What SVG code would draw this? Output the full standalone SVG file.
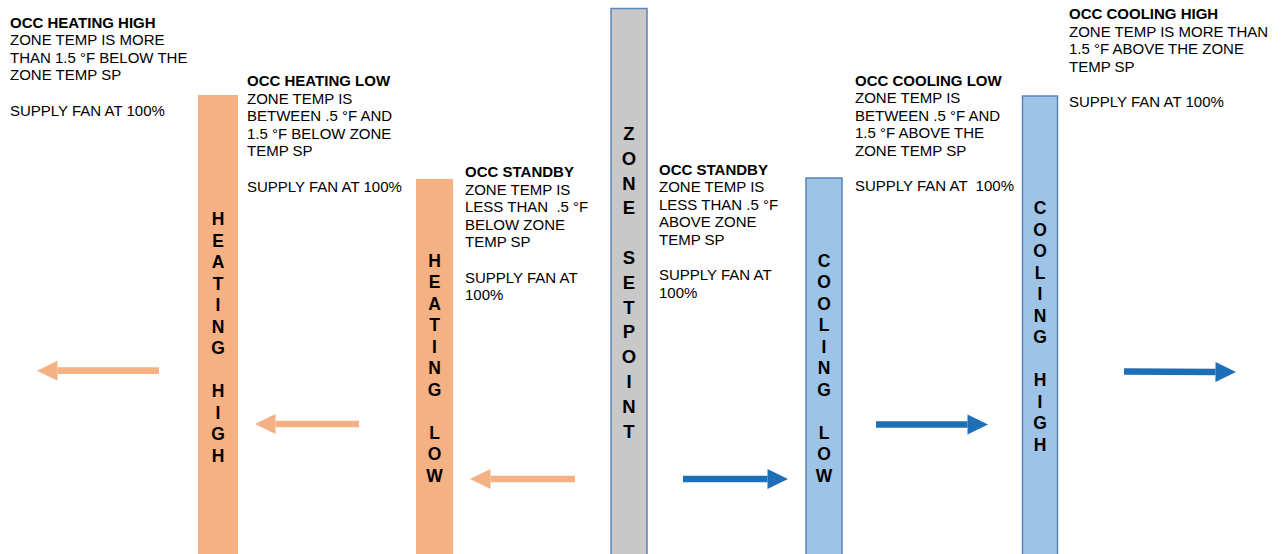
<svg xmlns="http://www.w3.org/2000/svg" width="1283" height="554" viewBox="0 0 1283 554">
<style>
.t{font-family:"Liberation Sans",Arial,sans-serif;font-size:15px;fill:#000;white-space:pre}
.b{font-weight:bold}
.v{font-family:"Liberation Sans",Arial,sans-serif;font-size:17.5px;font-weight:bold;fill:#000;text-anchor:middle}
.heat{fill:#F4B183}
.cool{fill:#9DC3E6;stroke:#5A84BA;stroke-width:1.5}
.sp{fill:#C8C8C8;stroke:#5A84BA;stroke-width:1.5}
.ao{stroke:#F4B183;stroke-width:6.7;fill:none;marker-end:url(#mo)}
.ab{stroke:#1E6FB7;stroke-width:6.7;fill:none;marker-end:url(#mb)}
</style>
<defs>
<marker id="mo" markerUnits="userSpaceOnUse" markerWidth="21" markerHeight="21" refX="0" refY="10" orient="auto" overflow="visible"><path d="M0,0 L20.5,10 L0,20 z" fill="#F4B183"/></marker>
<marker id="mb" markerUnits="userSpaceOnUse" markerWidth="21" markerHeight="21" refX="0" refY="10" orient="auto" overflow="visible"><path d="M0,0 L20.5,10 L0,20 z" fill="#1E6FB7"/></marker>
</defs>
<rect width="1283" height="554" fill="#fff"/>

<g id="heating-high">
<rect class="heat" x="198" y="95" width="40" height="470"/>
<text class="v"><tspan x="218" y="225">H</tspan><tspan x="218" dy="21.5">E</tspan><tspan x="218" dy="21.5">A</tspan><tspan x="218" dy="21.5">T</tspan><tspan x="218" dy="21.5">I</tspan><tspan x="218" dy="21.5">N</tspan><tspan x="218" dy="21.5">G</tspan><tspan x="218" dy="43">H</tspan><tspan x="218" dy="21.5">I</tspan><tspan x="218" dy="21.5">G</tspan><tspan x="218" dy="21.5">H</tspan></text>
</g>
<g id="heating-high-text">
<text class="t"><tspan class="b" x="10" y="27.5">OCC HEATING HIGH</tspan><tspan x="10" dy="17.6">ZONE TEMP IS MORE</tspan><tspan x="10" dy="17.6">THAN 1.5 °F BELOW THE</tspan><tspan x="10" dy="17.6">ZONE TEMP SP</tspan><tspan x="10" dy="35.2">SUPPLY FAN AT 100%</tspan></text>
</g>

<g id="heating-low">
<rect class="heat" x="416" y="179" width="37" height="390"/>
<text class="v"><tspan x="434.5" y="266.7">H</tspan><tspan x="434.5" dy="21.5">E</tspan><tspan x="434.5" dy="21.5">A</tspan><tspan x="434.5" dy="21.5">T</tspan><tspan x="434.5" dy="21.5">I</tspan><tspan x="434.5" dy="21.5">N</tspan><tspan x="434.5" dy="21.5">G</tspan><tspan x="434.5" dy="43">L</tspan><tspan x="434.5" dy="21.5">O</tspan><tspan x="434.5" dy="21.5">W</tspan></text>
</g>
<g id="heating-low-text">
<text class="t"><tspan class="b" x="247" y="86">OCC HEATING LOW</tspan><tspan x="247" dy="17.6">ZONE TEMP IS</tspan><tspan x="247" dy="17.6">BETWEEN .5 °F AND</tspan><tspan x="247" dy="17.6">1.5 °F BELOW ZONE</tspan><tspan x="247" dy="17.6">TEMP SP</tspan><tspan x="247" dy="35.2">SUPPLY FAN AT 100%</tspan></text>
</g>

<g id="standby-below-text">
<text class="t"><tspan class="b" x="465" y="177">OCC STANDBY</tspan><tspan x="465" dy="17.6">ZONE TEMP IS</tspan><tspan x="465" dy="17.6">LESS THAN  .5 °F</tspan><tspan x="465" dy="17.6">BELOW ZONE</tspan><tspan x="465" dy="17.6">TEMP SP</tspan><tspan x="465" dy="35.2">SUPPLY FAN AT</tspan><tspan x="465" dy="17.6">100%</tspan></text>
</g>

<g id="zone-setpoint">
<rect class="sp" x="611" y="8.5" width="36" height="560"/>
<text class="v" style="font-size:18.5px"><tspan x="629" y="140">Z</tspan><tspan x="629" dy="24.8">O</tspan><tspan x="629" dy="24.8">N</tspan><tspan x="629" dy="24.8">E</tspan><tspan x="629" dy="49.6">S</tspan><tspan x="629" dy="24.8">E</tspan><tspan x="629" dy="24.8">T</tspan><tspan x="629" dy="24.8">P</tspan><tspan x="629" dy="24.8">O</tspan><tspan x="629" dy="24.8">I</tspan><tspan x="629" dy="24.8">N</tspan><tspan x="629" dy="24.8">T</tspan></text>
</g>

<g id="standby-above-text">
<text class="t"><tspan class="b" x="659" y="174.5">OCC STANDBY</tspan><tspan x="659" dy="17.6">ZONE TEMP IS</tspan><tspan x="659" dy="17.6">LESS THAN .5 °F</tspan><tspan x="659" dy="17.6">ABOVE ZONE</tspan><tspan x="659" dy="17.6">TEMP SP</tspan><tspan x="659" dy="35.2">SUPPLY FAN AT</tspan><tspan x="659" dy="17.6">100%</tspan></text>
</g>

<g id="cooling-low">
<rect class="cool" x="806" y="178" width="36" height="390"/>
<text class="v"><tspan x="824" y="266.7">C</tspan><tspan x="824" dy="21.5">O</tspan><tspan x="824" dy="21.5">O</tspan><tspan x="824" dy="21.5">L</tspan><tspan x="824" dy="21.5">I</tspan><tspan x="824" dy="21.5">N</tspan><tspan x="824" dy="21.5">G</tspan><tspan x="824" dy="43">L</tspan><tspan x="824" dy="21.5">O</tspan><tspan x="824" dy="21.5">W</tspan></text>
</g>
<g id="cooling-low-text">
<text class="t"><tspan class="b" x="855" y="85.5">OCC COOLING LOW</tspan><tspan x="855" dy="17.6">ZONE TEMP IS</tspan><tspan x="855" dy="17.6">BETWEEN .5 °F AND</tspan><tspan x="855" dy="17.6">1.5 °F ABOVE THE</tspan><tspan x="855" dy="17.6">ZONE TEMP SP</tspan><tspan x="855" dy="35.2">SUPPLY FAN AT  100%</tspan></text>
</g>

<g id="cooling-high">
<rect class="cool" x="1022.5" y="96" width="35" height="470"/>
<text class="v"><tspan x="1040" y="214">C</tspan><tspan x="1040" dy="21.5">O</tspan><tspan x="1040" dy="21.5">O</tspan><tspan x="1040" dy="21.5">L</tspan><tspan x="1040" dy="21.5">I</tspan><tspan x="1040" dy="21.5">N</tspan><tspan x="1040" dy="21.5">G</tspan><tspan x="1040" dy="43">H</tspan><tspan x="1040" dy="21.5">I</tspan><tspan x="1040" dy="21.5">G</tspan><tspan x="1040" dy="21.5">H</tspan></text>
</g>
<g id="cooling-high-text">
<text class="t"><tspan class="b" x="1069" y="19">OCC COOLING HIGH</tspan><tspan x="1069" dy="17.5">ZONE TEMP IS MORE THAN</tspan><tspan x="1069" dy="17.5">1.5 °F ABOVE THE ZONE</tspan><tspan x="1069" dy="17.5">TEMP SP</tspan><tspan x="1069" dy="35">SUPPLY FAN AT 100%</tspan></text>
</g>

<g id="connectors">
<line class="ao" x1="159" y1="370.7" x2="57.5" y2="370.7"/>
<line class="ao" x1="359" y1="424" x2="275.5" y2="424"/>
<line class="ao" x1="575" y1="479" x2="490.5" y2="479"/>
<line class="ab" x1="683" y1="479" x2="767.5" y2="479"/>
<line class="ab" x1="876" y1="424.5" x2="967.5" y2="424.5"/>
<line class="ab" x1="1124" y1="371.5" x2="1215.5" y2="372"/>
</g>
</svg>
